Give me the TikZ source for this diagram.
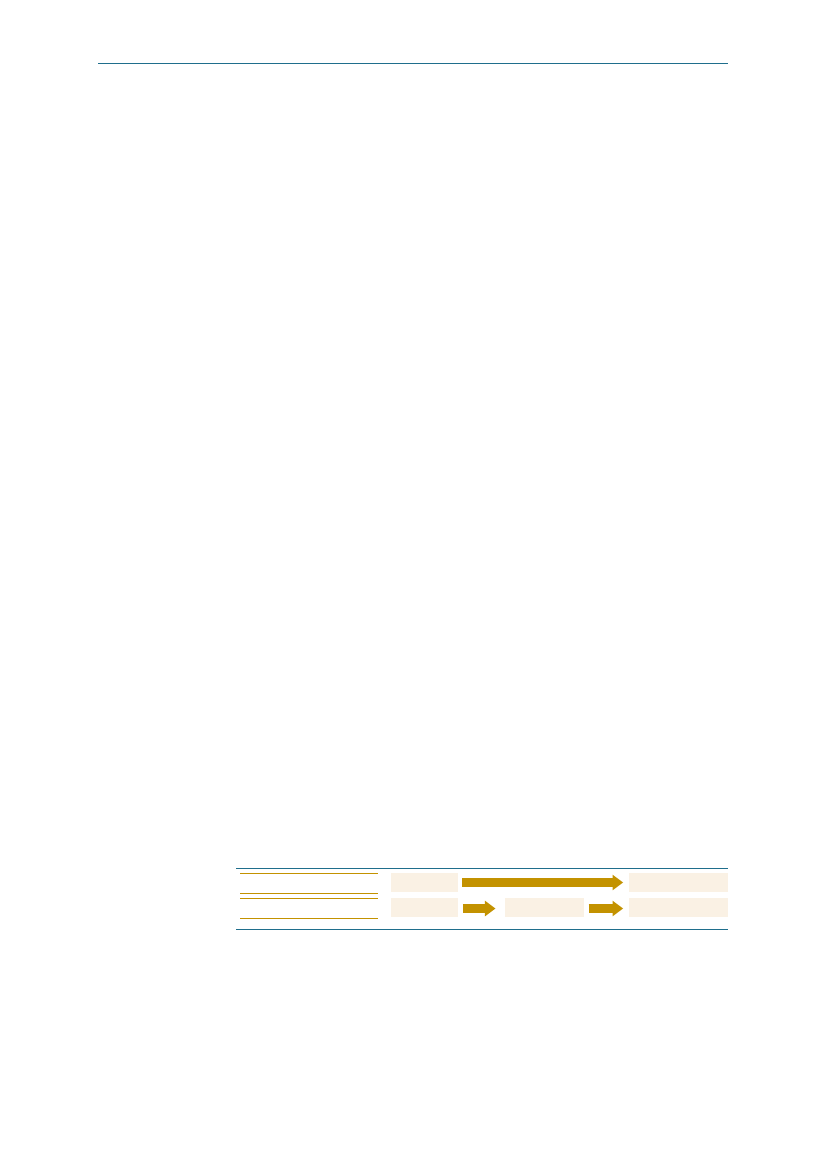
\documentclass[tikz,border=0pt]{standalone}
\usetikzlibrary{arrows.meta,positioning}
\definecolor{rulecol}{RGB}{31,110,140}
\definecolor{goldcol}{RGB}{195,146,0}
\definecolor{boxcol}{RGB}{250,241,228}

\begin{document}
\begin{tikzpicture}[x=1pt,y=-1pt,inner sep=0pt,
  stage/.style={fill=boxcol,minimum height=19.5pt},
  flow/.style={goldcol,line width=8.4pt,-{Triangle[length=10.6pt,width=15pt]},shorten <=4.5pt,shorten >=5.7pt}]
\useasboundingbox (0,0) rectangle (827,1169);
\draw [rulecol,line width=0.9pt] (98.3,63.3) -- (728.3,63.3);
\draw [rulecol,line width=0.9pt] (236,868.3) -- (728.3,868.3);
\draw [rulecol,line width=0.9pt] (236,929.3) -- (728.3,929.3);
\foreach \y in {873.3,893.3,898.3,918.3}
  \draw [goldcol,line width=0.9pt] (240,\y) -- (377.7,\y);

\node (start1) at (424.5,882.5) [stage,minimum width=66.4pt] {};
\node (end1) at (678.5,882.5) [stage,minimum width=99pt] {};
\node (start2) at (424.5,907.7) [stage,minimum width=66.4pt] {};
\node (mid2) at (544.5,907.7) [stage,minimum width=79pt] {};
\node (end2) at (678.5,907.7) [stage,minimum width=99pt] {};

\draw [flow] (start1) -- (end1);
\draw [flow,shorten <=5pt,shorten >=9.3pt] (start2.east |- 0,908.5) -- (mid2.west |- 0,908.5);
\draw [flow] (mid2.east |- 0,908.5) -- (end2.west |- 0,908.5);

\end{tikzpicture}
\end{document}
